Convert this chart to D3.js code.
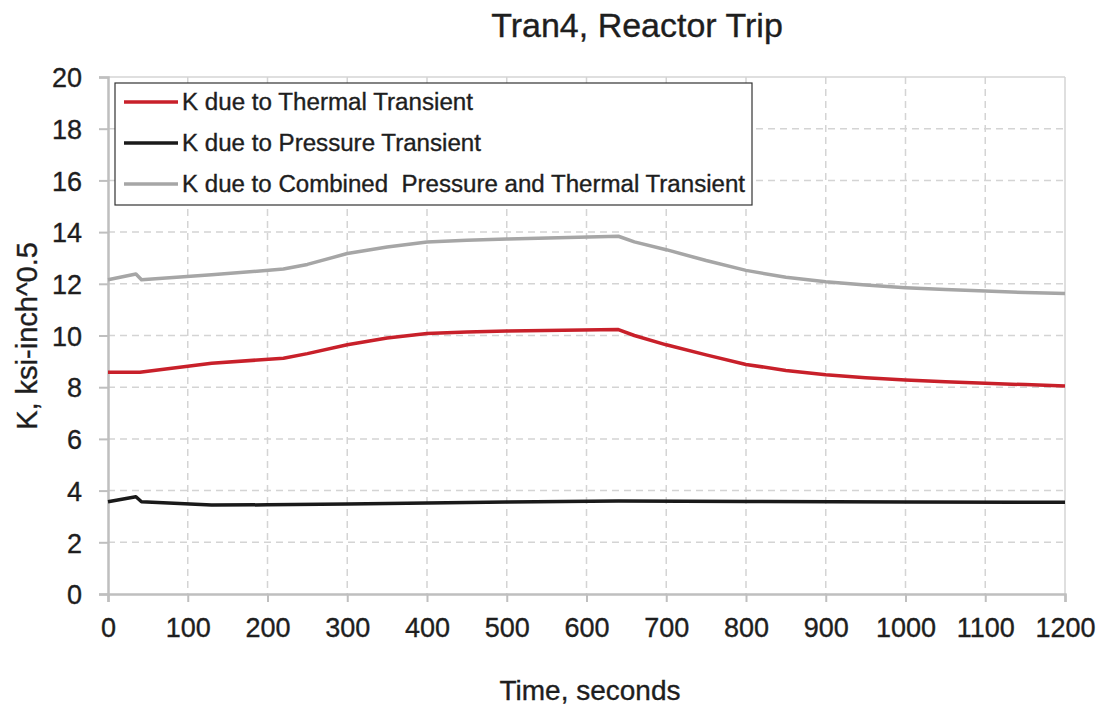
<!DOCTYPE html>
<html>
<head>
<meta charset="utf-8">
<script src="https://cdn.jsdelivr.net/npm/d3@7"></script>
<style>
  body { margin: 0; background: #fff; }
  text { font-family: "Liberation Sans", Arial, sans-serif; fill: #1e1e1e; stroke: #1e1e1e; stroke-width: 0.35px; }
</style>
</head>
<body>
<div id="plot"></div>
<script>
// Data
var timeThermal = [0, 40, 130, 220, 250, 300, 350, 400, 450, 500, 640, 660, 700, 750, 800, 850, 900, 950, 1000, 1050, 1100, 1150, 1200];
var kThermal    = [8.58, 8.58, 8.93, 9.12, 9.3, 9.64, 9.9, 10.08, 10.14, 10.17, 10.23, 10.0, 9.64, 9.25, 8.88, 8.65, 8.48, 8.37, 8.28, 8.21, 8.15, 8.1, 8.05];

var timePressure = [0, 35, 42, 130, 200, 300, 400, 500, 640, 800, 1000, 1200];
var kPressure    = [3.57, 3.76, 3.57, 3.44, 3.45, 3.48, 3.52, 3.56, 3.6, 3.58, 3.56, 3.55];

var timeCombined = [0, 35, 42, 130, 220, 250, 300, 350, 400, 450, 500, 640, 660, 700, 750, 800, 850, 900, 950, 1000, 1050, 1100, 1150, 1200];
var kCombined    = [12.16, 12.38, 12.16, 12.35, 12.57, 12.75, 13.17, 13.42, 13.62, 13.68, 13.73, 13.84, 13.62, 13.32, 12.9, 12.52, 12.25, 12.08, 11.95, 11.85, 11.78, 11.72, 11.66, 11.62];

var seriesNames = ["K due to Thermal Transient", "K due to Pressure Transient", "K due to Combined  Pressure and Thermal Transient"];
var seriesColors = ["#c8202a", "#1a1a1a", "#a6a6a6"];

var xTicks = d3.range(0, 1201, 100);
var yTicks = d3.range(0, 21, 2);

// SVG area
var svgWidth = 1102;
var svgHeight = 706;
var margin = { top: 77, right: 37, bottom: 112, left: 108 };
var chartWidth = svgWidth - margin.left - margin.right;
var chartHeight = svgHeight - margin.top - margin.bottom;

var svg = d3.select("#plot")
  .append("svg")
  .attr("width", svgWidth)
  .attr("height", svgHeight);

var chartGroup = svg.append("g")
  .attr("transform", `translate(${margin.left}, ${margin.top})`);

// Scales
var xScale = d3.scaleLinear().domain([0, 1200]).range([0, chartWidth]);
var yScale = d3.scaleLinear().domain([0, 20]).range([chartHeight, 0]);

// dashed grid
chartGroup.append("g")
  .selectAll("line")
  .data(xTicks.slice(1, -1))
  .enter()
  .append("line")
  .attr("x1", d => xScale(d)).attr("x2", d => xScale(d))
  .attr("y1", 0).attr("y2", chartHeight)
  .attr("stroke", "#d4d4d4")
  .attr("stroke-width", 1.5)
  .attr("stroke-dasharray", "7,5");

chartGroup.append("g")
  .selectAll("line")
  .data(yTicks.slice(1, -1))
  .enter()
  .append("line")
  .attr("x1", 0).attr("x2", chartWidth)
  .attr("y1", d => yScale(d)).attr("y2", d => yScale(d))
  .attr("stroke", "#d4d4d4")
  .attr("stroke-width", 1.5)
  .attr("stroke-dasharray", "7,5");

// top and right border lines
chartGroup.append("line")
  .attr("x1", 0).attr("x2", chartWidth).attr("y1", 0).attr("y2", 0)
  .attr("stroke", "#d4d4d4").attr("stroke-width", 1.5);
chartGroup.append("line")
  .attr("x1", chartWidth).attr("x2", chartWidth).attr("y1", 0).attr("y2", chartHeight)
  .attr("stroke", "#d4d4d4").attr("stroke-width", 1.5);

// Axes
var bottomAxis = d3.axisBottom(xScale).tickValues(xTicks).tickFormat(d3.format("d"))
  .tickSizeOuter(0).tickSize(8).tickPadding(16);
var leftAxis = d3.axisLeft(yScale).tickValues(yTicks).tickFormat(d3.format("d"))
  .tickSizeOuter(0).tickSize(9).tickPadding(17);

var xAxisG = chartGroup.append("g")
  .attr("transform", "translate(0, " + chartHeight + ")")
  .call(bottomAxis);
var yAxisG = chartGroup.append("g")
  .call(leftAxis);

[xAxisG, yAxisG].forEach(function(g) {
  g.select(".domain").attr("stroke", "#bfbfbf").attr("stroke-width", 2.5);
  g.selectAll(".tick line").attr("stroke", "#bfbfbf").attr("stroke-width", 2);
  g.selectAll(".tick text")
    .style("font-family", "'Liberation Sans', Arial, sans-serif")
    .style("font-size", "27px")
    .attr("fill", "#1e1e1e");
});
yAxisG.selectAll(".tick text").attr("dy", "0.36em");

// Lines
var drawLine = d3.line()
  .x(d => xScale(d[0]))
  .y(d => yScale(d[1]));

var series = [
  d3.zip(timeThermal, kThermal),
  d3.zip(timePressure, kPressure),
  d3.zip(timeCombined, kCombined)
];

// draw combined first, then thermal, then pressure
[2, 0, 1].forEach(function(i) {
  chartGroup.append("path")
    .attr("d", drawLine(series[i]))
    .attr("fill", "none")
    .attr("stroke", seriesColors[i])
    .attr("stroke-width", 3.5)
    .attr("stroke-linejoin", "round");
});

// Legend
var legend = svg.append("g").attr("transform", "translate(115, 83)");
legend.append("rect")
  .attr("x", 0).attr("y", 0)
  .attr("width", 637).attr("height", 122)
  .attr("fill", "#fff")
  .attr("stroke", "#333")
  .attr("stroke-width", 1.2);

var legendWidths = [291, 299, 563];
seriesNames.forEach(function(name, i) {
  var yy = 19 + i * 41;
  legend.append("line")
    .attr("x1", 9).attr("x2", 63)
    .attr("y1", yy).attr("y2", yy)
    .attr("stroke", seriesColors[i])
    .attr("stroke-width", 3.5);
  legend.append("text")
    .attr("x", 67).attr("y", yy + 8)
    .attr("xml:space", "preserve")
    .style("white-space", "pre")
    .style("font-size", "23px")
    .attr("textLength", legendWidths[i])
    .attr("lengthAdjust", "spacingAndGlyphs")
    .text(name);
});

// Titles
svg.append("text")
  .attr("x", 637).attr("y", 37)
  .attr("text-anchor", "middle")
  .style("font-size", "34px")
  .text("Tran4, Reactor Trip");

svg.append("text")
  .attr("x", 590).attr("y", 700)
  .attr("text-anchor", "middle")
  .style("font-size", "28px")
  .text("Time, seconds");

svg.append("text")
  .attr("transform", "translate(37, 336) rotate(-90)")
  .attr("text-anchor", "middle")
  .style("font-size", "29px")
  .text("K, ksi-inch^0.5");
</script>
</body>
</html>
